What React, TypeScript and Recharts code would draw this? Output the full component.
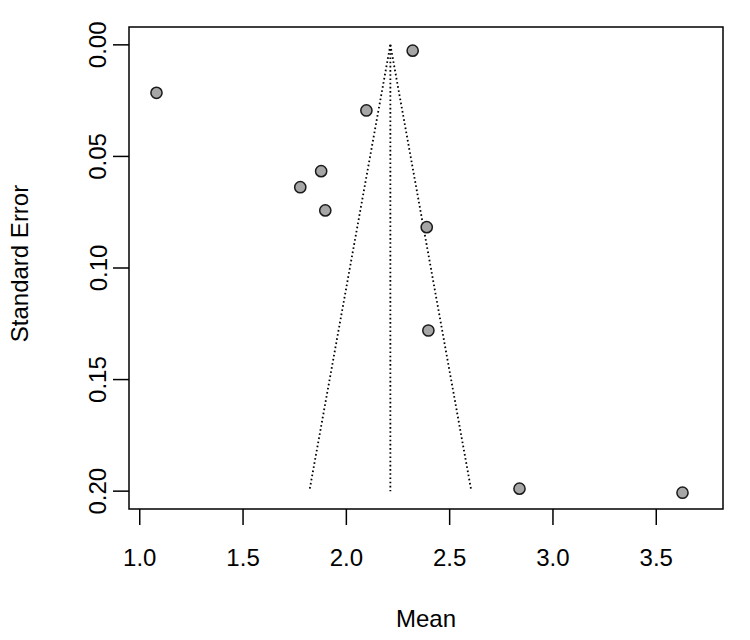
import { ScatterChart, Scatter, XAxis, YAxis, ReferenceLine, ReferenceArea, Label } from 'recharts';

// study estimates and their standard errors
const means = [1.081, 2.321, 2.097, 1.878, 1.777, 1.898, 2.389, 2.397, 2.838, 3.627];
const stdErrors = [0.0215, 0.0026, 0.0294, 0.0566, 0.0638, 0.0742, 0.0817, 0.128, 0.1989, 0.2007];

// pooled estimate and the 95% funnel limits at the widest standard error
const pooledMean = 2.213;
const funnelSe = [0, 0.2];
const funnelLower = [2.213, 1.821];
const funnelUpper = [2.213, 2.605];

const xTicks = [1.0, 1.5, 2.0, 2.5, 3.0, 3.5];
const yTicks = [0.0, 0.05, 0.1, 0.15, 0.2];
const xDomain = [0.948, 3.823];
const yDomain = [-0.008, 0.208];

const points = means.map((m, i) => ({ mean: m, se: stdErrors[i] }));

const FONT = 'Liberation Sans, Arial, Helvetica, sans-serif';

const XTick = (props: any) => {
	const { x, payload } = props;
	return (
		<text x={x} y={566} textAnchor="middle" fontFamily={FONT} fontSize={24} fill="#000">
			{Number(payload.value).toFixed(1)}
		</text>
	);
};

const YTick = (props: any) => {
	const { y, payload } = props;
	return (
		<text x={106.5} y={y} transform={`rotate(-90, 106.5, ${y})`} textAnchor="middle" fontFamily={FONT} fontSize={24} fill="#000">
			{Number(payload.value).toFixed(2)}
		</text>
	);
};

const Dot = (props: any) => <circle cx={props.cx} cy={props.cy} r={5.6} fill="#a6a6a6" stroke="#1a1a1a" strokeWidth={1.5} />;

export default function App() {
	const dotted = { stroke: '#000', strokeWidth: 1.8, strokeDasharray: '1.6 2.6' };
	return (
		<div style={{ position: 'fixed', left: 0, top: 0, background: '#fff' }}>
			<ScatterChart width={750} height={640} margin={{ top: 27, right: 27, bottom: 0, left: 0 }}>
				<XAxis
					type="number"
					dataKey="mean"
					domain={xDomain}
					ticks={xTicks}
					allowDataOverflow
					height={131}
					axisLine={false}
					tickSize={16}
					tickLine={{ stroke: '#000', strokeWidth: 1.5 }}
					tick={<XTick />}
				>
					<Label
						content={(p: any) => (
							<text x={p.viewBox.x + p.viewBox.width / 2} y={626.5} textAnchor="middle" fontFamily={FONT} fontSize={24} fill="#000">
								Mean
							</text>
						)}
					/>
				</XAxis>
				<YAxis
					type="number"
					dataKey="se"
					domain={yDomain}
					ticks={yTicks}
					reversed
					allowDataOverflow
					width={129}
					axisLine={false}
					tickSize={16}
					tickLine={{ stroke: '#000', strokeWidth: 1.5 }}
					tick={<YTick />}
				>
					<Label
						content={(p: any) => {
							const cy = p.viewBox.y + p.viewBox.height / 2 - 4.5;
							return (
								<text x={28} y={cy} transform={`rotate(-90, 28, ${cy})`} textAnchor="middle" fontFamily={FONT} fontSize={24} fill="#000">
									Standard Error
								</text>
							);
						}}
					/>
				</YAxis>
				<ReferenceArea
					x1={xDomain[0]}
					x2={xDomain[1]}
					y1={yDomain[0]}
					y2={yDomain[1]}
					fill="none"
					stroke="#000"
					strokeWidth={1.5}
					ifOverflow="visible"
				/>
				<ReferenceLine segment={[{ x: pooledMean, y: funnelSe[0] }, { x: pooledMean, y: funnelSe[1] }]} {...dotted} />
				<ReferenceLine segment={[{ x: funnelLower[0], y: funnelSe[0] }, { x: funnelLower[1], y: funnelSe[1] }]} {...dotted} />
				<ReferenceLine segment={[{ x: funnelUpper[0], y: funnelSe[0] }, { x: funnelUpper[1], y: funnelSe[1] }]} {...dotted} />
				<Scatter data={points} shape={<Dot />} isAnimationActive={false} />
			</ScatterChart>
		</div>
	);
}
